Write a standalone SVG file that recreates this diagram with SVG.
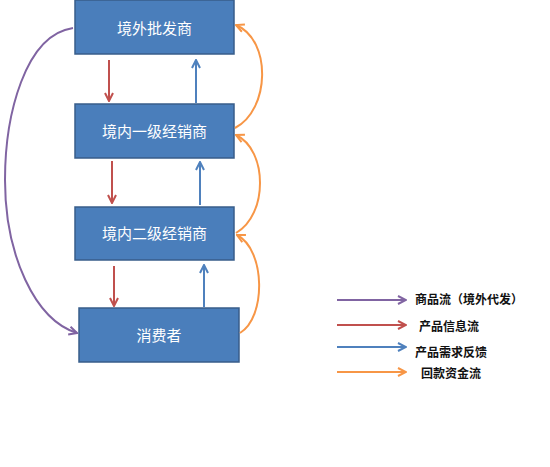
<svg xmlns="http://www.w3.org/2000/svg" width="550" height="467" viewBox="0 0 550 467">
<defs>
<style>
.box{fill:#4a7ebb;stroke:#385d8a;stroke-width:1.5}
.bt{fill:#fff;font-family:"Liberation Sans","Noto Sans CJK SC",sans-serif;font-size:15px;text-anchor:middle;dominant-baseline:central}
.lt{fill:#111;font-family:"Liberation Sans","Noto Sans CJK SC",sans-serif;font-size:12px;font-weight:bold;dominant-baseline:central}
.c{fill:none;stroke-width:2}
.pu{stroke:#8064a2}.re{stroke:#c0504d}.bl{stroke:#4f81bd}.or{stroke:#f79646}
</style>
<marker id="mpu" viewBox="0 0 10 10" refX="9" refY="5" markerWidth="5" markerHeight="5" orient="auto" markerUnits="strokeWidth"><path d="M1,1 L9,5 L1,9" fill="none" stroke="#8064a2" stroke-width="2"/></marker>
<marker id="mre" viewBox="0 0 10 10" refX="9" refY="5" markerWidth="5" markerHeight="5" orient="auto" markerUnits="strokeWidth"><path d="M1,1 L9,5 L1,9" fill="none" stroke="#c0504d" stroke-width="2"/></marker>
<marker id="mbl" viewBox="0 0 10 10" refX="9" refY="5" markerWidth="5" markerHeight="5" orient="auto" markerUnits="strokeWidth"><path d="M1,1 L9,5 L1,9" fill="none" stroke="#4f81bd" stroke-width="2"/></marker>
<marker id="mor" viewBox="0 0 10 10" refX="9" refY="5" markerWidth="5" markerHeight="5" orient="auto" markerUnits="strokeWidth"><path d="M1,1 L9,5 L1,9" fill="none" stroke="#f79646" stroke-width="2"/></marker>
</defs>
<rect width="550" height="467" fill="#fff"/>
<g id="n1"><rect class="box" x="75" y="0" width="159" height="54"/><text class="bt" x="154.5" y="28">境外批发商</text></g>
<g id="n2"><rect class="box" x="75" y="104" width="159" height="54"/><text class="bt" x="154.5" y="131">境内一级经销商</text></g>
<g id="n3"><rect class="box" x="75" y="207" width="159" height="53"/><text class="bt" x="154.5" y="233">境内二级经销商</text></g>
<g id="n4"><rect class="box" x="79" y="308" width="160" height="54"/><text class="bt" x="159" y="335">消费者</text></g>
<g id="connectors">
<path class="c re" d="M109,60 L109,101" marker-end="url(#mre)"/>
<path class="c re" d="M112,161 L112,203" marker-end="url(#mre)"/>
<path class="c re" d="M114,266 L114,306" marker-end="url(#mre)"/>
<path class="c bl" d="M196,103 L196,60" marker-end="url(#mbl)"/>
<path class="c bl" d="M200,205 L200,162" marker-end="url(#mbl)"/>
<path class="c bl" d="M204,307 L204,265" marker-end="url(#mbl)"/>
<path class="c or" d="M235,128 C270,110 272,40 236,25" marker-end="url(#mor)"/>
<path class="c or" d="M236,233 C268,215 268,150 236,135" marker-end="url(#mor)"/>
<path class="c or" d="M240,333 C266,318 266,250 237,235" marker-end="url(#mor)"/>
<path class="c pu" d="M73,28 C25,35 5,115 5,180 C5,255 35,320 77,333" marker-end="url(#mpu)"/>
</g>
<g id="legend">
<path class="c pu" d="M337,300 L406,300" marker-end="url(#mpu)"/>
<path class="c re" d="M337,325 L406,325" marker-end="url(#mre)"/>
<path class="c bl" d="M337,347 L406,347" marker-end="url(#mbl)"/>
<path class="c or" d="M337,372 L406,372" marker-end="url(#mor)"/>
<text class="lt" x="415" y="300">商品流（境外代发）</text>
<text class="lt" x="419" y="327">产品信息流</text>
<text class="lt" x="415" y="353">产品需求反馈</text>
<text class="lt" x="421" y="374">回款资金流</text>
</g>
</svg>
